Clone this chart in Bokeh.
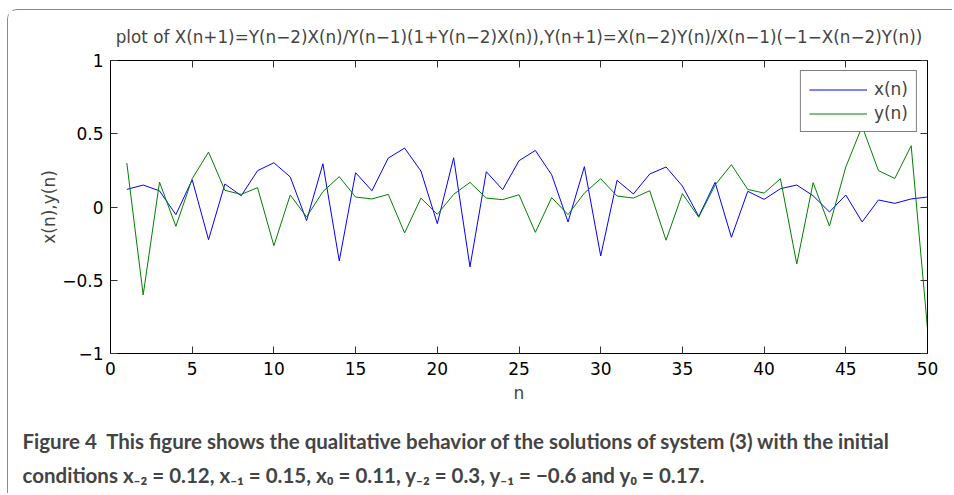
from bokeh.plotting import figure
from bokeh.models import (Range1d, FixedTicker, LinearAxis, Title, Legend, LegendItem)
from bokeh.embed import file_html
from bokeh.resources import INLINE

n = list(range(1, 51))
x_vals = [0.12, 0.15, 0.11, -0.052, 0.186, -0.223, 0.157, 0.077, 0.248, 0.302,
          0.205, -0.093, 0.295, -0.368, 0.234, 0.111, 0.334, 0.402, 0.245, -0.114,
          0.336, -0.409, 0.241, 0.118, 0.316, 0.386, 0.220, -0.102, 0.275, -0.334,
          0.182, 0.089, 0.225, 0.273, 0.143, -0.064, 0.168, -0.207, 0.107, 0.052,
          0.125, 0.150, 0.077, -0.034, 0.082, -0.102, 0.048, 0.025, 0.055, 0.068]
y_vals = [0.30, -0.60, 0.17, -0.132, 0.193, 0.375, 0.114, 0.086, 0.132, -0.264,
          0.082, -0.068, 0.105, 0.207, 0.068, 0.055, 0.086, -0.177, 0.061, -0.05,
          0.086, 0.168, 0.061, 0.05, 0.084, -0.173, 0.064, -0.052, 0.095, 0.193,
          0.075, 0.061, 0.111, -0.227, 0.091, -0.07, 0.15, 0.289, 0.12, 0.095,
          0.193, -0.389, 0.166, -0.13, 0.273, 0.55, 0.248, 0.195, 0.418, -0.83]
x_ticks = [0, 5, 10, 15, 20, 25, 30, 35, 40, 45, 50]
y_ticks = [-1, -0.5, 0, 0.5, 1]
y_tick_labels = {-1: "\u22121", -0.5: "\u22120.5", 0: "0", 0.5: "0.5", 1: "1"}

title_text = "plot of X(n+1)=Y(n\u22122)X(n)/Y(n\u22121)(1+Y(n\u22122)X(n)),Y(n+1)=X(n\u22122)Y(n)/X(n\u22121)(\u22121\u2212X(n\u22122)Y(n))"
caption1 = "Figure 4\u00a0\u00a0This figure shows the qualitative behavior of the solutions of system (3) with the initial"
caption2 = "conditions x\u208B\u2082 = 0.12, x\u208B\u2081 = 0.15, x\u2080 = 0.11, y\u208B\u2082 = 0.3, y\u208B\u2081 = \u22120.6 and y\u2080 = 0.17."

FONT = "DejaVu Sans"

p = figure(width=945, height=484, output_backend="svg", toolbar_location=None,
           x_range=Range1d(0, 50), y_range=Range1d(-1, 1),
           min_border_left=102, min_border_right=26, min_border_top=50, min_border_bottom=141,
           title=title_text)
p.margin = (9, 0, 0, 7)
p.styles = {"border-left": "1px solid #8a8a8a", "border-top": "1px solid #8a8a8a",
            "border-top-left-radius": "10px"}
p.background_fill_color = "white"
p.border_fill_color = "white"
p.outline_line_color = "black"
p.outline_line_width = 1
p.grid.visible = False

p.title.text_font = FONT
p.title.text_font_size = "16.8px"
p.title.text_font_style = "normal"
p.title.align = "center"
p.title.standoff = 28

for ax in p.xaxis + p.yaxis:
    ax.major_tick_in = 7
    ax.major_tick_out = 0
    ax.minor_tick_line_color = None
    ax.major_tick_line_color = "#333333"
    ax.axis_line_color = "black"
    ax.major_label_text_font = FONT
    ax.major_label_text_font_size = "17px"
    ax.major_label_text_color = "black"
    ax.axis_label_text_font = FONT
    ax.axis_label_text_font_size = "17px"
    ax.axis_label_text_font_style = "normal"

p.xaxis.ticker = FixedTicker(ticks=x_ticks)
p.yaxis.ticker = FixedTicker(ticks=y_ticks)
p.yaxis.major_label_overrides = y_tick_labels
p.xaxis.major_label_standoff = 8
p.yaxis.major_label_standoff = 7
p.xaxis.axis_label = "n"
p.xaxis.axis_label_standoff = 5
p.yaxis.axis_label = "x(n),y(n)"
p.yaxis.axis_label_standoff = 0

top_ax = LinearAxis(ticker=FixedTicker(ticks=x_ticks), major_label_text_alpha=0,
                    major_label_text_font_size="0px", major_tick_in=7, major_tick_out=0,
                    minor_tick_line_color=None, major_tick_line_color="#333333",
                    axis_line_color="black", major_label_standoff=0)
right_ax = LinearAxis(ticker=FixedTicker(ticks=y_ticks), major_label_text_alpha=0,
                      major_label_text_font_size="0px", major_tick_in=7, major_tick_out=0,
                      minor_tick_line_color=None, major_tick_line_color="#333333",
                      axis_line_color="black", major_label_standoff=0)
p.add_layout(top_ax, "above")
p.add_layout(right_ax, "right")

rx = p.line(n, x_vals, line_color="#0000ff", line_width=1)
ry = p.line(n, y_vals, line_color="#008000", line_width=1)

legend = Legend(items=[LegendItem(label="x(n)", renderers=[rx]),
                       LegendItem(label="y(n)", renderers=[ry])],
                location="top_right")
legend.margin = 10
legend.padding = 8
legend.spacing = 4
legend.glyph_width = 58
legend.glyph_height = 17
legend.label_height = 17
legend.label_standoff = 7
legend.label_text_font = FONT
legend.label_text_font_size = "17px"
legend.border_line_color = "black"
legend.border_line_width = 1
legend.background_fill_alpha = 1
legend.background_fill_color = "white"
p.add_layout(legend)

cap1 = Title(text=caption1, align="left", offset=-88, standoff=42,
             text_font="Lato", text_font_style="bold", text_font_size="20.5px")
cap2 = Title(text=caption2, align="left", offset=-88, standoff=-27,
             text_font="Lato", text_font_style="bold", text_font_size="20.5px")
p.add_layout(cap1, "below")
p.add_layout(cap2, "below")

open("out.html", "w").write(file_html(p, INLINE))
